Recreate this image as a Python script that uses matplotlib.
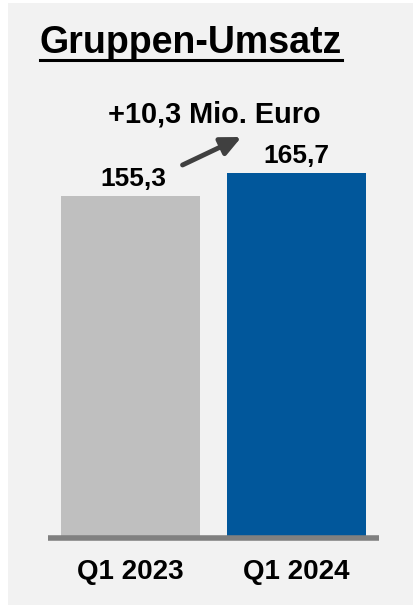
import matplotlib.pyplot as plt
from matplotlib.patches import Rectangle
from matplotlib.lines import Line2D

plt.rcParams['font.family'] = ['Liberation Sans', 'DejaVu Sans']

categories = ["Q1 2023", "Q1 2024"]
values = [155.3, 165.7]
value_labels = ["155,3", "165,7"]
bar_colors = ["#bfbfbf", "#01579b"]
title = "Gruppen-Umsatz"
delta_label = "+10,3 Mio. Euro"

W, H = 413, 606
fig = plt.figure(figsize=(W / 100, H / 100), dpi=100)
fig.patch.set_facecolor("white")

# grey panel behind everything
fig.patches.append(Rectangle((8 / W, 1 / H), 405 / W, 602 / H, transform=fig.transFigure,
                             facecolor="#f2f2f2", edgecolor="none", zorder=-10))

ax = fig.add_axes([48 / W, (H - 538) / H, 331 / W, 438 / H])
ax.set_facecolor("none")
ax.bar(range(len(values)), values, width=0.837, color=bar_colors, zorder=2)
ax.set_xlim(-0.5, 1.5)
ax.set_ylim(0, 438 / 2.202)
ax.axhline(0, color="#808080", lw=4, zorder=3, clip_on=False, solid_capstyle="butt")

for s in ax.spines.values():
    s.set_visible(False)
ax.set_yticks([])
ax.set_xticks(range(len(categories)), categories, fontsize=20, fontweight="bold")
ax.tick_params(axis="x", length=0, pad=15)

for i, (v, lab) in enumerate(zip(values, value_labels)):
    ax.annotate(lab, (i, v), xytext=(2 if i == 0 else 0, 7.5), textcoords="offset points",
                ha="center", va="baseline", fontsize=19, fontweight="bold")

# growth arrow between the bars
ax.annotate("", xy=(0.669, 182.1), xytext=(0.313, 169.4),
            arrowprops=dict(arrowstyle="-|>,head_width=0.28,head_length=0.6", lw=3.5,
                            color="#404040", mutation_scale=20, shrinkA=0, shrinkB=0))
ax.text(0.506, 188.9, delta_label, ha="center", va="baseline", fontsize=20.8, fontweight="bold")

t = fig.text(191 / W, (H - 53) / H, title, ha="center", va="baseline", fontsize=27, fontweight="bold")
fig.canvas.draw()
bb = t.get_window_extent()
fig.lines.append(Line2D([bb.x0 / W, bb.x1 / W], [(H - 60) / H] * 2, transform=fig.transFigure,
                        color="black", lw=2.2))

fig.savefig("out.png", dpi=100)
